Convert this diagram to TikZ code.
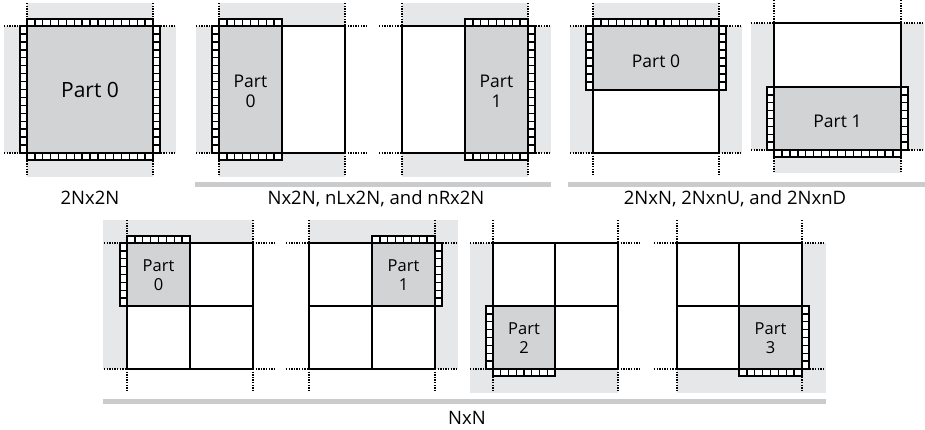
\documentclass[tikz,border=0pt]{standalone}
\usepackage{fontspec}
\setmainfont{Open Sans}
\definecolor{bandgray}{HTML}{E6E7E9}
\definecolor{partgray}{HTML}{D1D3D5}
\definecolor{bargray}{HTML}{C9CBCD}
\tikzset{
  band/.style={fill=bandgray, draw=none},
  partfill/.style={fill=partgray, draw=none},
  sqline/.style={draw=black, line width=1.5pt},
  strip/.style={draw=black, fill=white, line width=1.4pt},
  dotline/.style={draw=black, line width=1.3pt, dash pattern=on 1.3pt off 1.3pt},
  bar/.style={fill=bargray, draw=none},
  lbl/.style={font=\fontsize{17.5}{20}\selectfont, align=center, inner sep=0pt},
  smalllbl/.style={font=\fontsize{16.5}{19}\selectfont, align=center, inner sep=0pt},
  captext/.style={font=\fontsize{18.5}{20}\selectfont, inner sep=0pt, anchor=base},
}
\newcommand{\HStrip}[5]{%
  \draw[strip] (#1,#3) rectangle (#2,#4);
  \pgfmathsetmacro{\sdx}{(#2-#1)/#5}%
  \pgfmathtruncatemacro{\snm}{#5-1}%
  \foreach \k in {1,...,\snm} \draw[strip] ({#1+\k*\sdx},#3) -- ({#1+\k*\sdx},#4);
}
\newcommand{\VStrip}[5]{%
  \draw[strip] (#1,#3) rectangle (#2,#4);
  \pgfmathsetmacro{\sdy}{(#4-#3)/#5}%
  \pgfmathtruncatemacro{\snm}{#5-1}%
  \foreach \k in {1,...,\snm} \draw[strip] (#1,{#3+\k*\sdy}) -- (#2,{#3+\k*\sdy});
}
% dotted extensions of a square x1,x2,y1,y2 with length 23
\newcommand{\Ext}[4]{%
  \draw[dotline] (#1-23,#3) -- (#1,#3) (#2,#3) -- (#2+23,#3);
  \draw[dotline] (#1-23,#4) -- (#1,#4) (#2,#4) -- (#2+23,#4);
  \draw[dotline] (#1,#3-23) -- (#1,#3) (#1,#4) -- (#1,#4+23);
  \draw[dotline] (#2,#3-23) -- (#2,#3) (#2,#4) -- (#2,#4+23);
}
\begin{document}
\begin{tikzpicture}[x=1pt,y=-1pt]
\useasboundingbox (0,0) rectangle (925,429);
\fill[white] (0,0) rectangle (925,429);

% ---------- Panel 1: 2Nx2N ----------
\fill[band] (27,3) rectangle (153,26);
\fill[band] (27,153) rectangle (153,177);
\fill[band] (4,26) rectangle (27,153);
\fill[band] (153,26) rectangle (176,153);
\fill[partfill] (27,26) rectangle (153,153);
\draw[sqline] (27,26) rectangle (153,153);
\HStrip{27}{153}{19}{26}{16}
\HStrip{27}{153}{153}{160}{16}
\VStrip{20}{27}{26}{153}{16}
\VStrip{153}{160}{26}{153}{16}
\Ext{27}{153}{26}{153}
\node[lbl, font=\fontsize{21}{24}\selectfont, anchor=base] (t1) at (90,97) {Part 0};
\node[captext] (c1) at (90,204) {2Nx2N};

% ---------- Panel 2: Nx2N part 0 ----------
\fill[band] (219,3) rectangle (345,26);
\fill[band] (219,153) rectangle (345,177);
\fill[band] (196,26) rectangle (219,153);
\fill[partfill] (219,26) rectangle (282,153);
\draw[sqline] (219,26) rectangle (345,153);
\draw[sqline] (282,26) -- (282,153);
\HStrip{219}{282}{19}{26}{8}
\HStrip{219}{282}{153}{160}{8}
\VStrip{212}{219}{26}{153}{16}
\Ext{219}{345}{26}{153}
\node[lbl] (t2) at (250.5,91) {Part\\0};

% ---------- Panel 3: Nx2N part 1 ----------
\fill[band] (402,3) rectangle (528,26);
\fill[band] (402,153) rectangle (528,177);
\fill[band] (528,26) rectangle (551,153);
\fill[partfill] (465,26) rectangle (528,153);
\draw[sqline] (402,26) rectangle (528,153);
\draw[sqline] (465,26) -- (465,153);
\HStrip{465}{528}{19}{26}{8}
\HStrip{465}{528}{153}{160}{8}
\VStrip{528}{535}{26}{153}{16}
\Ext{402}{528}{26}{153}
\node[lbl] (t3) at (496.5,91) {Part\\1};

\fill[bar] (195,182) rectangle (551,187);
\node[captext] (c2) at (376,204) {Nx2N, nLx2N, and nRx2N};

% ---------- Panel 4: 2NxN part 0 ----------
\fill[band] (593,3) rectangle (719,26);
\fill[band] (570,26) rectangle (593,153);
\fill[band] (719,26) rectangle (742,153);
\fill[partfill] (593,26) rectangle (719,90);
\draw[sqline] (593,26) rectangle (719,153);
\draw[sqline] (593,90) -- (719,90);
\HStrip{593}{719}{19}{26}{16}
\VStrip{586}{593}{26}{90}{8}
\VStrip{719}{726}{26}{90}{8}
\Ext{593}{719}{26}{153}
\node[lbl, anchor=base] (t4) at (656,67) {Part 0};

% ---------- Panel 5: 2NxN part 1 ----------
\fill[band] (751,23) rectangle (774,150);
\fill[band] (901,23) rectangle (924,150);
\fill[band] (774,150) rectangle (901,173);
\fill[partfill] (774,87) rectangle (901,150);
\draw[sqline] (774,23) rectangle (901,150);
\draw[sqline] (774,87) -- (901,87);
\VStrip{767}{774}{87}{150}{8}
\VStrip{901}{908}{87}{150}{8}
\HStrip{774}{901}{150}{157}{16}
\Ext{774}{901}{23}{150}
\node[lbl, anchor=base] (t5) at (837.5,127) {Part 1};

\fill[bar] (568,182) rectangle (925,187);
\node[captext] (c3) at (735,204) {2NxN, 2NxnU, and 2NxnD};

% ---------- Panel 6: NxN part 0 ----------
\fill[band] (103,220) rectangle (253,243);
\fill[band] (103,243) rectangle (127,369);
\fill[partfill] (127,243) rectangle (190,306);
\draw[sqline] (127,243) rectangle (253,369);
\draw[sqline] (190,243) -- (190,369) (127,306) -- (253,306);
\HStrip{127}{190}{236}{243}{8}
\VStrip{120}{127}{243}{306}{8}
\Ext{127}{253}{243}{369}
\node[smalllbl] (t6) at (158.5,275) {Part\\0};

% ---------- Panel 7: NxN part 1 ----------
\fill[band] (309,220) rectangle (458,243);
\fill[band] (435,243) rectangle (458,369);
\fill[partfill] (372,243) rectangle (435,306);
\draw[sqline] (309,243) rectangle (435,369);
\draw[sqline] (372,243) -- (372,369) (309,306) -- (435,306);
\HStrip{372}{435}{236}{243}{8}
\VStrip{435}{442}{243}{306}{8}
\Ext{309}{435}{243}{369}
\node[smalllbl] (t7) at (403.5,275) {Part\\1};

% ---------- Panel 8: NxN part 2 ----------
\fill[band] (470,243) rectangle (493,393);
\fill[band] (493,369) rectangle (618,393);
\fill[partfill] (493,306) rectangle (555,369);
\draw[sqline] (493,243) rectangle (618,369);
\draw[sqline] (555,243) -- (555,369) (493,306) -- (618,306);
\VStrip{486}{493}{306}{369}{8}
\HStrip{493}{555}{369}{376}{8}
\Ext{493}{618}{243}{369}
\node[smalllbl] (t8) at (524,338) {Part\\2};

% ---------- Panel 9: NxN part 3 ----------
\fill[band] (802,243) rectangle (826,393);
\fill[band] (677,369) rectangle (802,393);
\fill[partfill] (739,306) rectangle (802,369);
\draw[sqline] (677,243) rectangle (802,369);
\draw[sqline] (739,243) -- (739,369) (677,306) -- (802,306);
\VStrip{802}{809}{306}{369}{8}
\HStrip{739}{802}{369}{376}{8}
\Ext{677}{802}{243}{369}
\node[smalllbl] (t9) at (770.5,338) {Part\\3};

\fill[bar] (103,399) rectangle (826,404);
\node[captext] (c4) at (467,424) {NxN};
\end{tikzpicture}
\end{document}
